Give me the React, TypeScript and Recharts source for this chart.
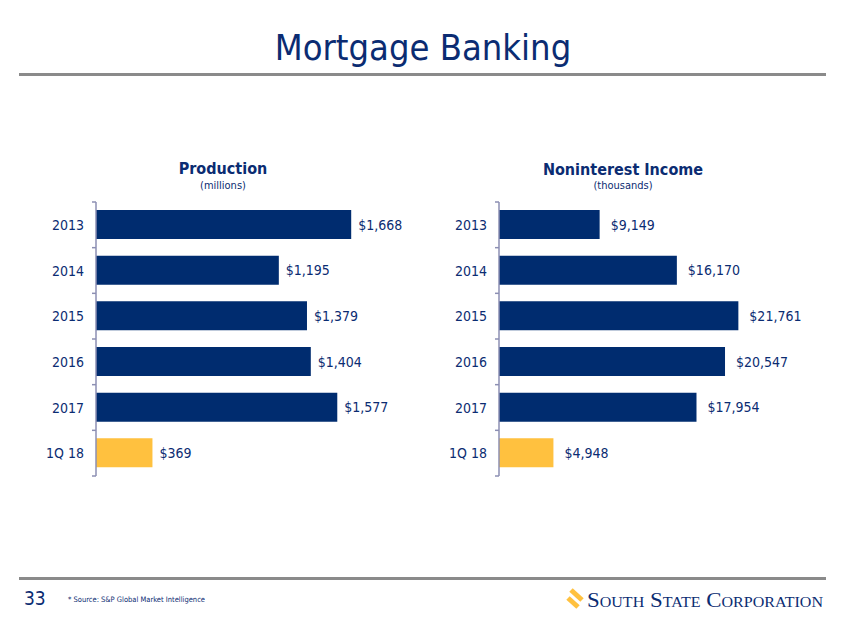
import React from 'react';
import { BarChart, Bar, XAxis, YAxis, Cell, LabelList } from 'recharts';

const categories = ['2013', '2014', '2015', '2016', '2017', '1Q 18'];
const production = [1668, 1195, 1379, 1404, 1577, 369];
const noninterest = [9149, 16170, 21761, 20547, 17954, 4948];

const NAVY = '#002C6F';
const TEXT_NAVY = '#0B2C72';
const YELLOW = '#FFC13F';
const AXIS = '#8C8FB3';
const RULE = '#8A8A8A';
const FONT = '"DejaVu Sans Condensed", "DejaVu Sans", sans-serif';

const prodData = categories.map((c, i) => ({ cat: c, value: production[i] }));
const nonData = categories.map((c, i) => ({ cat: c, value: noninterest[i] }));

const TOP = 202;
const BOTTOM_Y = 476;
const CH = 500;
const BAND = (BOTTOM_Y - TOP) / categories.length;

const fmt = (v: number) => '$' + v.toLocaleString('en-US');

const makeTick = (margin: number) => (props: any) => {
  const { x, y, payload, index } = props;
  const ax = x + margin;
  const last = index === categories.length - 1;
  return (
    <g>
      <text x={x} y={y} dy={5} textAnchor="end" fill={TEXT_NAVY} fontSize={14} fontFamily={FONT}>
        {payload.value}
      </text>
      <line x1={ax - 4} x2={ax} y1={y - BAND / 2} y2={y - BAND / 2} stroke={AXIS} strokeWidth={1.5} />
      {last && <line x1={ax - 4} x2={ax} y1={y + BAND / 2} y2={y + BAND / 2} stroke={AXIS} strokeWidth={1.5} />}
    </g>
  );
};

const makeLabel = (off: number) => (p: any) => (
  <text
    x={p.x + p.width + off}
    y={p.y + p.height / 2}
    dy={5}
    textAnchor="start"
    fill={TEXT_NAVY}
    fontSize={14}
    fontFamily={FONT}
  >
    {fmt(p.value)}
  </text>
);

function Chart({ data, width, axisW, max, off, right }: { data: any[]; width: number; axisW: number; max: number; off: number; right: number }) {
  return (
    <BarChart
      width={width}
      height={CH}
      data={data}
      layout="vertical"
      margin={{ top: TOP, bottom: CH - BOTTOM_Y, left: 0, right }}
    >
      <XAxis type="number" domain={[0, max]} hide />
      <YAxis
        type="category"
        dataKey="cat"
        width={axisW}
        axisLine={{ stroke: AXIS, strokeWidth: 1.5 }}
        tickLine={false}
        tickSize={0}
        tickMargin={12}
        tick={makeTick(12)}
        interval={0}
      />
      <Bar dataKey="value" barSize={29} isAnimationActive={false}>
        {data.map((d, i) => (
          <Cell key={i} fill={d.cat.startsWith('1Q') ? YELLOW : NAVY} />
        ))}
        <LabelList dataKey="value" content={makeLabel(off)} />
      </Bar>
    </BarChart>
  );
}

export default function App() {
  return (
    <div style={{ position: 'absolute', left: 0, top: 0, width: 846, height: 635, background: '#fff', overflow: 'hidden' }}>
      <svg width={846} height={635} style={{ position: 'absolute', left: 0, top: 0 }}>
        <text x={423} y={60} textAnchor="middle" fill={TEXT_NAVY} fontSize={36} fontFamily={FONT}>
          Mortgage Banking
        </text>
        <rect x={19} y={73} width={807} height={3} fill={RULE} />
        <text x={223} y={174} textAnchor="middle" fill={TEXT_NAVY} fontSize={16} fontWeight="bold" fontFamily={FONT}>
          Production
        </text>
        <text x={223} y={189} textAnchor="middle" fill={TEXT_NAVY} fontSize={11} fontFamily={FONT}>
          (millions)
        </text>
        <text x={623} y={175} textAnchor="middle" fill={TEXT_NAVY} fontSize={16} fontWeight="bold" fontFamily={FONT}>
          Noninterest Income
        </text>
        <text x={623} y={189} textAnchor="middle" fill={TEXT_NAVY} fontSize={11} fontFamily={FONT}>
          (thousands)
        </text>
        <rect x={19} y={577} width={807} height={3} fill={RULE} />
        <text x={24} y={605} fill={TEXT_NAVY} fontSize={19} fontFamily={FONT}>
          33
        </text>
        <text x={68} y={602} fill={TEXT_NAVY} fontSize={7.5} fontFamily={FONT} textLength={137} lengthAdjust="spacingAndGlyphs">
          * Source: S&amp;P Global Market Intelligence
        </text>
        <line x1={571} y1={590} x2={582} y2={600} stroke={YELLOW} strokeWidth={5} />
        <line x1={568} y1={598} x2={578} y2={607} stroke={YELLOW} strokeWidth={5} />
        <text
          x={587}
          y={607}
          fill={TEXT_NAVY}
          fontSize={20}
          fontFamily='"Liberation Serif", serif'
          style={{ fontVariant: 'small-caps' }}
          textLength={236}
          lengthAdjust="spacingAndGlyphs"
        >
          South State Corporation
        </text>
      </svg>
      <div style={{ position: 'absolute', left: 0, top: 0 }}>
        <Chart data={prodData} width={402} axisW={96} max={2000} off={7} right={0} />
      </div>
      <div style={{ position: 'absolute', left: 400, top: 0 }}>
        <Chart data={nonData} width={446} axisW={99} max={30000} off={11} right={17} />
      </div>
    </div>
  );
}
